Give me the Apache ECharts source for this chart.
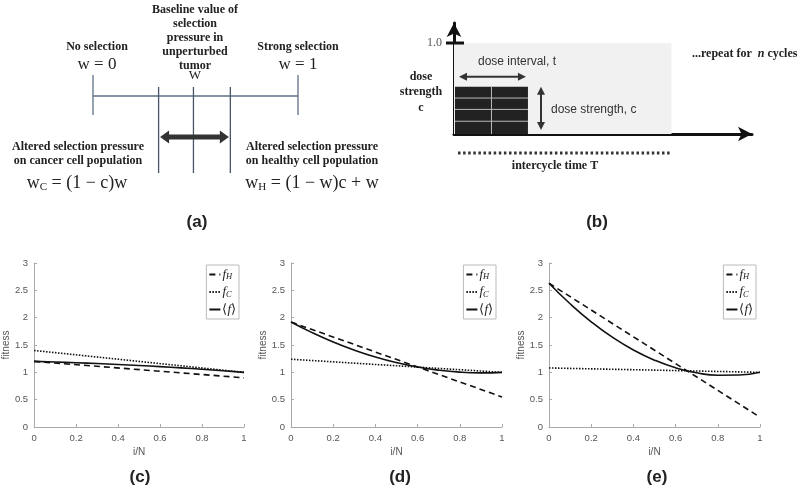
<!DOCTYPE html>
<html><head><meta charset="utf-8">
<script src="https://cdn.jsdelivr.net/npm/echarts@6/dist/echarts.min.js"></script>
<style>html,body{margin:0;padding:0;background:#fff}#c{width:800px;height:490px}</style>
</head><body><div id="c"></div>
<script>
// ---- Panel (a): selection pressure scale ----
const wEnds = [0, 1];
const wBaseline = 0.49;
const wCancer = 0.32;
const wHealthy = 0.67;
// ---- Panel (b): dosing schedule ----
const doseStrength = 0.52;
const doseInterval = 0.34;
const intercycleT = 1.0;
const maxDose = 1.0;
// ---- Panels (c)-(e): fitness vs i/N ----
const xTicks = [0, 0.2, 0.4, 0.6, 0.8, 1];
const yTicks = [0, 0.5, 1, 1.5, 2, 2.5, 3];
const xLin = [0, 1];
const xs = [0, 0.1, 0.2, 0.3, 0.4, 0.5, 0.6, 0.7, 0.8, 0.9, 1];
const fH_c = [1.2, 0.9];
const fC_c = [1.4, 1.0];
const fM_c = [1.2, 1.189, 1.176, 1.161, 1.144, 1.125, 1.104, 1.081, 1.056, 1.029, 1.0];
const fH_d = [1.92, 0.55];
const fC_d = [1.24, 1.0];
const fM_d = [1.92, 1.726, 1.555, 1.407, 1.281, 1.178, 1.097, 1.039, 1.003, 0.990, 1.0];
const fH_e = [2.63, 0.18];
const fC_e = [1.08, 1.0];
const fM_e = [2.63, 2.254, 1.925, 1.643, 1.409, 1.223, 1.083, 0.991, 0.947, 0.950, 1.0];
const panelLabels = ['(a)', '(b)', '(c)', '(d)', '(e)'];

const SERIF = '"Liberation Serif", "Times New Roman", serif';
const SANS = '"Liberation Sans", Arial, Helvetica, sans-serif';
const zip = (a, b) => a.map((v, i) => [v, b[i]]);

const chart = echarts.init(document.getElementById('c'));

function txt(x, y, text, o) {
  o = o || {};
  return {
    type: 'text', x: x, y: y, silent: true, z: 100,
    style: Object.assign({
      text: text, fontFamily: SERIF, fontSize: 12, fontWeight: 'bold', fill: '#222',
      align: o.left ? 'left' : 'center', verticalAlign: 'middle',
      textAlign: o.left ? 'left' : 'center', textVerticalAlign: 'middle'
    }, o.style || {})
  };
}
const formulaRich = {
  a: { fontFamily: SERIF, fontSize: 18, fill: '#222', color: '#222' },
  s: { fontFamily: SERIF, fontSize: 11, fill: '#222', color: '#222', padding: [9, 0, 0, 0] }
};

const graphics = [
  txt(97, 47, 'No selection'),
  txt(97, 65, 'w = 0', { style: { fontWeight: 'normal', fontSize: 17 } }),
  txt(195, 10, 'Baseline value of'),
  txt(195, 24, 'selection'),
  txt(195, 38, 'pressure in'),
  txt(195, 52, 'unperturbed'),
  txt(195, 66, 'tumor'),
  txt(195, 76, 'W', { style: { fontWeight: 'normal', fontSize: 13 } }),
  txt(298, 47, 'Strong selection'),
  txt(298, 65, 'w = 1', { style: { fontWeight: 'normal', fontSize: 17 } }),
  txt(78, 147, 'Altered selection pressure'),
  txt(78, 161, 'on cancer cell population'),
  txt(312, 147, 'Altered selection pressure'),
  txt(312, 161, 'on healthy cell population'),
  txt(77, 183, '{a|w}{s|C}{a| = (1 \u2212 c)w}', { style: { fontWeight: 'normal', rich: formulaRich } }),
  txt(312, 183, '{a|w}{s|H}{a| = (1 \u2212 w)c + w}', { style: { fontWeight: 'normal', rich: formulaRich } }),
  // panel b texts
  txt(421, 77, 'dose'),
  txt(421, 92, 'strength'),
  txt(421, 108, 'c'),
  txt(478, 62, 'dose interval, t', { left: true, style: { fontFamily: SANS, fontWeight: 'normal', fontSize: 12, fill: '#333' } }),
  txt(551, 110, 'dose strength, c', { left: true, style: { fontFamily: SANS, fontWeight: 'normal', fontSize: 12, fill: '#333' } }),
  txt(692, 54, '{b|...repeat for  }{i|n}{b| cycles}', { left: true, style: { rich: {
    b: { fontFamily: SERIF, fontWeight: 'bold', fontSize: 12, fill: '#222', color: '#222' },
    i: { fontFamily: SERIF, fontWeight: 'bold', fontStyle: 'italic', fontSize: 12, fill: '#222', color: '#222' } } } }),
  txt(555, 166, 'intercycle time T'),
];
const labelPos = [[197, 222], [597, 222], [140, 477], [400, 477], [657, 477]];
panelLabels.forEach((l, i) => graphics.push(txt(labelPos[i][0], labelPos[i][1], l, { style: { fontFamily: SANS, fontSize: 17 } })));

// ---- grids ----
const grids = [
  { left: 93, top: 75, width: 205, height: 100 },
  { left: 454, top: 23, width: 298, height: 111 },
  { left: 33, top: 263, width: 211, height: 164 },
  { left: 291, top: 263, width: 211, height: 164 },
  { left: 549, top: 263, width: 211, height: 164 }
];
const hiddenAxis = (g, max) => ({ gridIndex: g, type: 'value', min: 0, max: max, show: false });
const bAxisLine = { show: true, lineStyle: { color: '#111', width: 3 }, symbol: ['none', 'arrow'], symbolSize: [11, 14] };
const xAxes = [
  hiddenAxis(0, 1),
  { gridIndex: 1, type: 'value', min: 0, max: 1.37, axisLine: bAxisLine, axisTick: { show: false }, axisLabel: { show: false }, splitLine: { show: false } }
];
const yAxes = [
  hiddenAxis(0, 1),
  { gridIndex: 1, type: 'value', min: 0, max: 1.22, interval: maxDose, axisLine: bAxisLine, axisTick: { show: false },
    axisLabel: { formatter: v => v === maxDose ? '1.0' : '', fontFamily: SERIF, fontSize: 12, color: '#555', margin: 12 }, splitLine: { show: false } }
];
const axCol = '#aaa';
for (let g = 2; g <= 4; g++) {
  xAxes.push({ gridIndex: g, type: 'value', min: xTicks[0], max: xTicks[xTicks.length - 1], interval: xTicks[1] - xTicks[0],
    name: 'i/N', nameLocation: 'middle', nameGap: 20, nameTextStyle: { fontSize: 10, color: '#555', fontFamily: SANS },
    axisLine: { lineStyle: { color: axCol } }, axisTick: { inside: true, length: 3, lineStyle: { color: axCol } },
    axisLabel: { fontSize: 9.5, color: '#555', fontFamily: SANS, margin: 6 }, splitLine: { show: false } });
  yAxes.push({ gridIndex: g, type: 'value', min: yTicks[0], max: yTicks[yTicks.length - 1], interval: yTicks[1] - yTicks[0],
    name: 'fitness', nameLocation: 'middle', nameGap: 17, nameTextStyle: { fontSize: 10, color: '#555', fontFamily: SANS },
    axisLine: { show: true, lineStyle: { color: axCol } }, axisTick: { show: true, inside: true, length: 3, lineStyle: { color: axCol } },
    axisLabel: { fontSize: 9.5, color: '#555', fontFamily: SANS, margin: 6 }, splitLine: { show: false } });
}

const series = [];
// panel (a) scale
series.push({
  type: 'custom', xAxisIndex: 0, yAxisIndex: 0, clip: false, silent: true, data: [[0, 0]],
  renderItem: (p, api) => {
    const X = v => api.coord([v, 0])[0];
    const Y = v => api.coord([0, v])[1];
    const col = '#5f6e86';
    const ch = [];
    ch.push({ type: 'line', shape: { x1: X(wEnds[0]), y1: Y(0.79), x2: X(wEnds[1]), y2: Y(0.79) }, style: { stroke: col, lineWidth: 1.3 } });
    wEnds.forEach(w => ch.push({ type: 'line', shape: { x1: X(w), y1: Y(1.0), x2: X(w), y2: Y(0.6) }, style: { stroke: col, lineWidth: 1.3 } }));
    [wCancer, wBaseline, wHealthy].forEach(w => ch.push({ type: 'line', shape: { x1: X(w), y1: Y(0.88), x2: X(w), y2: Y(0.02) }, style: { stroke: '#4a5568', lineWidth: 1.3 } }));
    const ay = Y(0.38), xl = X(wCancer) + 1.5, xr = X(wHealthy) - 1.5, hl = 9, hh = 6.5, sh = 2.5;
    ch.push({ type: 'polygon', shape: { points: [[xl, ay], [xl + hl, ay - hh], [xl + hl, ay - sh], [xr - hl, ay - sh], [xr - hl, ay - hh], [xr, ay],
      [xr - hl, ay + hh], [xr - hl, ay + sh], [xl + hl, ay + sh], [xl + hl, ay + hh]] }, style: { fill: '#333' } });
    return { type: 'group', children: ch };
  }
});
// panel (b) schedule
series.push({
  type: 'custom', xAxisIndex: 1, yAxisIndex: 1, clip: false, silent: true, z: 1, data: [[0, 0]],
  renderItem: (p, api) => {
    const X = v => api.coord([v, 0])[0];
    const Y = v => api.coord([0, v])[1];
    const ch = [];
    ch.push({ type: 'rect', shape: { x: X(0), y: Y(maxDose), width: X(intercycleT) - X(0), height: Y(0) - Y(maxDose) }, style: { fill: '#f1f1f1' } });
    const bx = X(0) + 1, by = Y(doseStrength), bw = X(doseInterval) - X(0) - 1, bh = Y(0) - Y(doseStrength);
    ch.push({ type: 'rect', shape: { x: bx, y: by, width: bw, height: bh }, style: { fill: '#222' } });
    [0.24, 0.48, 0.73].forEach(f => ch.push({ type: 'line', shape: { x1: bx, y1: by + bh * f, x2: bx + bw, y2: by + bh * f }, style: { stroke: '#bbb', lineWidth: 1 } }));
    ch.push({ type: 'line', shape: { x1: bx + bw * 0.5, y1: by, x2: bx + bw * 0.5, y2: by + bh }, style: { stroke: '#bbb', lineWidth: 1 } });
    // tick at 1.0
    ch.push({ type: 'line', shape: { x1: X(0) - 8, y1: Y(maxDose), x2: X(0) + 10, y2: Y(maxDose) }, style: { stroke: '#111', lineWidth: 3 } });
    // dose interval arrow
    const ay = Y(0.63), x1 = X(0) + 5, x2 = X(doseInterval) - 2;
    ch.push({ type: 'line', shape: { x1: x1 + 3, y1: ay, x2: x2 - 3, y2: ay }, style: { stroke: '#333', lineWidth: 2 } });
    ch.push({ type: 'polygon', shape: { points: [[x1, ay], [x1 + 8, ay - 4], [x1 + 8, ay + 4]] }, style: { fill: '#333' } });
    ch.push({ type: 'polygon', shape: { points: [[x2, ay], [x2 - 8, ay - 4], [x2 - 8, ay + 4]] }, style: { fill: '#333' } });
    // dose strength arrow
    const vx = X(0.40), y1 = Y(doseStrength), y2 = Y(0) - 4;
    ch.push({ type: 'line', shape: { x1: vx, y1: y1 + 3, x2: vx, y2: y2 - 3 }, style: { stroke: '#333', lineWidth: 2 } });
    ch.push({ type: 'polygon', shape: { points: [[vx, y1], [vx - 4, y1 + 8], [vx + 4, y1 + 8]] }, style: { fill: '#333' } });
    ch.push({ type: 'polygon', shape: { points: [[vx, y2], [vx - 4, y2 - 8], [vx + 4, y2 - 8]] }, style: { fill: '#333' } });
    // intercycle dotted line
    const dy = Y(0) + 19;
    ch.push({ type: 'line', shape: { x1: X(0) + 4, y1: dy, x2: X(intercycleT), y2: dy }, style: { stroke: '#333', lineWidth: 3, lineDash: [2.5, 2.6] } });
    return { type: 'group', children: ch };
  }
});

const panels = [
  { k: 'c', g: 2, fH: fH_c, fC: fC_c, fM: fM_c, right: 561 },
  { k: 'd', g: 3, fH: fH_d, fC: fC_d, fM: fM_d, right: 304 },
  { k: 'e', g: 4, fH: fH_e, fC: fC_e, fM: fM_e, right: 44 }
];
const legends = [];
const lw = 1.6;
panels.forEach(pn => {
  series.push({ type: 'line', name: 'fH_' + pn.k, xAxisIndex: pn.g, yAxisIndex: pn.g, data: zip(xLin, pn.fH), symbol: 'none',
    lineStyle: { color: '#111', width: lw, type: [6, 4] }, itemStyle: { color: '#111' } });
  series.push({ type: 'line', name: 'fC_' + pn.k, xAxisIndex: pn.g, yAxisIndex: pn.g, data: zip(xLin, pn.fC), symbol: 'none',
    lineStyle: { color: '#111', width: lw, type: [1.5, 1.5] }, itemStyle: { color: '#111' } });
  series.push({ type: 'line', name: 'fM_' + pn.k, xAxisIndex: pn.g, yAxisIndex: pn.g, data: zip(xs, pn.fM), symbol: 'none', smooth: true,
    lineStyle: { color: '#111', width: lw }, itemStyle: { color: '#111' } });
  legends.push({
    data: ['fH_' + pn.k, 'fC_' + pn.k, 'fM_' + pn.k], orient: 'vertical', right: pn.right, top: 265,
    itemWidth: 11, itemHeight: 10, itemGap: 4, padding: [3, 3, 3, 2], borderColor: '#bbb', borderWidth: 1, backgroundColor: '#fff',
    selectedMode: false, itemStyle: { opacity: 0 },
    formatter: n => n.startsWith('fH') ? '{f|f}{s|H}' : n.startsWith('fC') ? '{f|f}{s|C}' : '{n|\u27E8}{f|f}{n|\u27E9}',
    textStyle: { padding: [0, 0, 0, -3], rich: {
      f: { fontFamily: SERIF, fontStyle: 'italic', fontSize: 13, color: '#222' },
      s: { fontFamily: SERIF, fontStyle: 'italic', fontSize: 8.5, color: '#222', padding: [5, 0, 0, 0] },
      n: { fontFamily: SERIF, fontSize: 13, color: '#222' } } }
  });
});

chart.setOption({
  backgroundColor: '#fff',
  animation: false,
  grid: grids,
  xAxis: xAxes,
  yAxis: yAxes,
  legend: legends,
  series: series,
  graphic: { elements: graphics }
});
</script></body></html>
